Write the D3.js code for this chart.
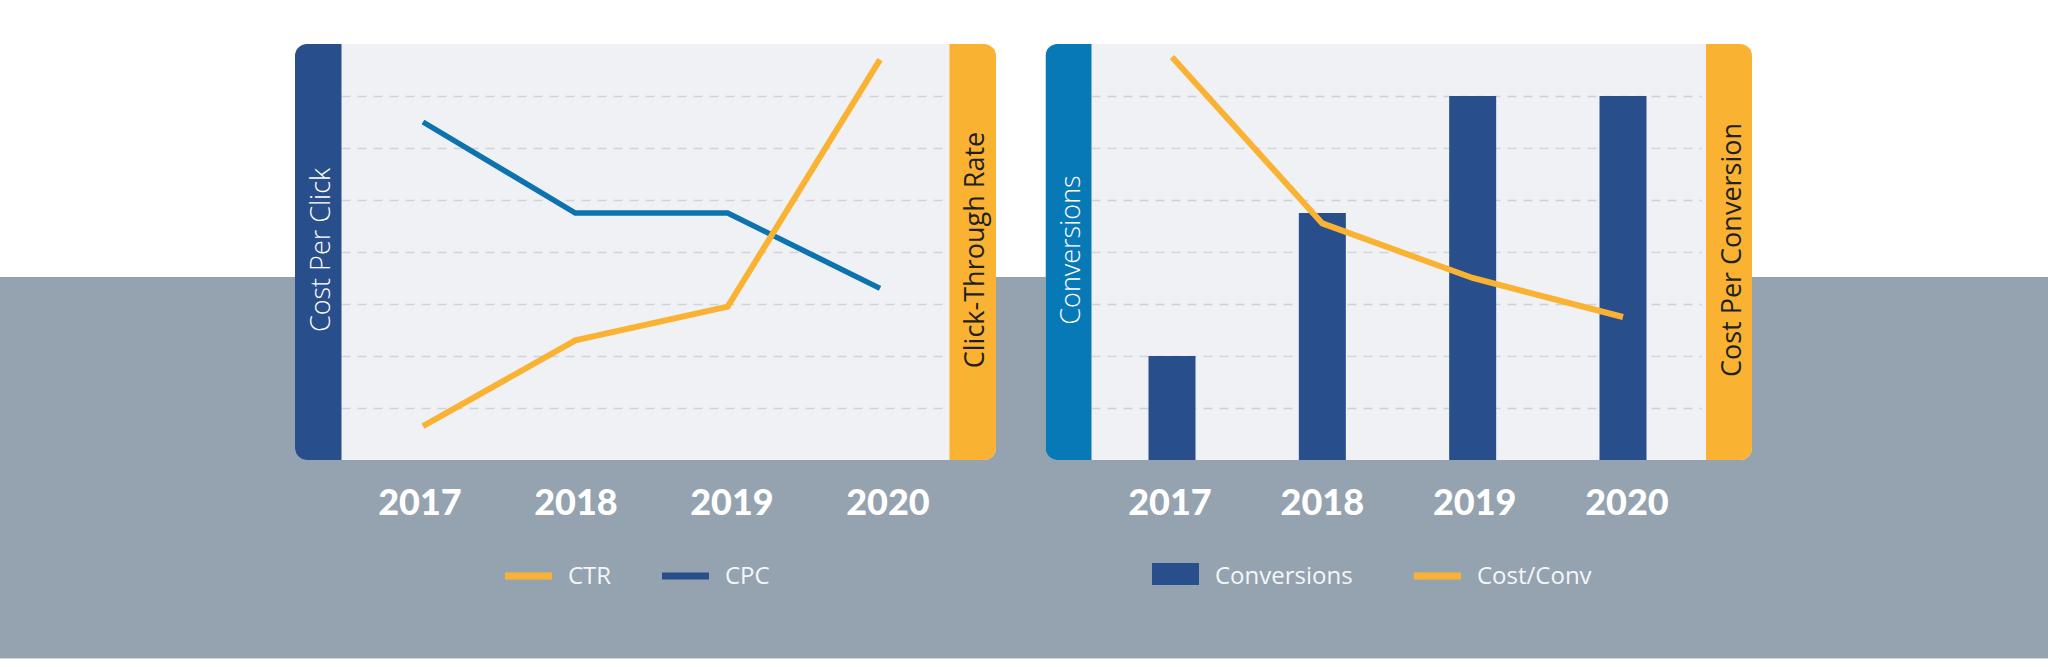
<!DOCTYPE html>
<html>
<head>
<meta charset="utf-8">
<script src="https://cdn.jsdelivr.net/npm/d3@7"></script>
<style>
  html, body { margin: 0; padding: 0; background: #ffffff; }
  svg { display: block; }
</style>
</head>
<body>
<svg id="chart" width="2048" height="667"></svg>
<script>
// ---------- DATA ----------
const years = ["2017", "2018", "2019", "2020"];
// left panel (grid units, no tick labels shown)
const cpc = [6.5, 4.75, 4.75, 3.3];
const ctr = [0.65, 2.3, 2.95, 7.7];
// right panel
const conversions = [2.0, 4.75, 7.0, 7.0];
const costPerConv = [7.75, 4.55, 3.5, 2.75];
const gridTicks = [1, 2, 3, 4, 5, 6, 7];

const leftLegend = ["CTR", "CPC"];
const rightLegend = ["Conversions", "Cost/Conv"];

// ---------- STYLE ----------
const C = {
  gray: "#95a3b0",
  panel: "#eff1f5",
  navy: "#284f8b",
  teal: "#0c73ae",
  convBlue: "#0879b7",
  orange: "#fab232",
  grid: "#cfd3da",
  dark: "#231f20"
};

const svg = d3.select("#chart");

// background bands
svg.append("rect").attr("x", 0).attr("y", 0).attr("width", 2048).attr("height", 667).attr("fill", "#ffffff");
svg.append("rect").attr("x", 0).attr("y", 277).attr("width", 2048).attr("height", 381).attr("fill", C.gray);
svg.append("rect").attr("x", 0).attr("y", 658).attr("width", 2048).attr("height", 1).attr("fill", "#c9d7e1");

const y = d3.scaleLinear().domain([0, 8]).range([460, 44]);

function panel(opts) {
  const g = svg.append("g");
  const id = "clip" + opts.id;
  svg.append("defs").append("clipPath").attr("id", id)
    .append("rect").attr("x", opts.x0).attr("y", 44)
    .attr("width", opts.x1 - opts.x0).attr("height", 416).attr("rx", 12);
  const inner = g.append("g").attr("clip-path", `url(#${id})`);
  inner.append("rect").attr("x", opts.x0).attr("y", 44)
    .attr("width", opts.x1 - opts.x0).attr("height", 416).attr("fill", C.panel);
  // grid
  inner.selectAll("line.grid").data(gridTicks).join("line")
    .attr("x1", opts.x0 + opts.sideW).attr("x2", opts.x1 - opts.sideW - 4)
    .attr("y1", d => Math.round(y(d)) + 0.5).attr("y2", d => Math.round(y(d)) + 0.5)
    .attr("stroke", C.grid).attr("stroke-width", 1.3).attr("stroke-dasharray", "9,7");
  // side bars
  inner.append("rect").attr("x", opts.x0).attr("y", 44).attr("width", opts.sideW).attr("height", 416).attr("fill", opts.leftColor);
  inner.append("rect").attr("x", opts.x1 - opts.sideW).attr("y", 44).attr("width", opts.sideW).attr("height", 416).attr("fill", C.orange);
  // side labels
  const lx = opts.x0 + opts.sideW / 2, rx = opts.x1 - opts.sideW / 2;
  g.append("text").attr("transform", `translate(${lx + 1},250) rotate(-90)`)
    .attr("text-anchor", "middle").attr("dominant-baseline", "central")
    .attr("font-family", "'Open Sans', sans-serif").attr("font-weight", 300)
    .attr("font-size", 27).attr("fill", "#ffffff").text(opts.leftLabel);
  g.append("text").attr("transform", `translate(${rx + 1},250) rotate(-90)`)
    .attr("text-anchor", "middle").attr("dominant-baseline", "central")
    .attr("font-family", "'Open Sans', sans-serif").attr("font-weight", 400)
    .attr("font-size", 27).attr("fill", C.dark).text(opts.rightLabel);
  return inner;
}

// ---------- LEFT PANEL ----------
const leftInner = panel({ id: "L", x0: 295, x1: 996, sideW: 46.5, leftColor: C.navy,
  leftLabel: "Cost Per Click", rightLabel: "Click-Through Rate" });
const xL = d3.scalePoint().domain(years).range([423, 880]);
const line = d3.line().x(d => d[0]).y(d => d[1]);
leftInner.append("path")
  .attr("d", line(years.map((yr, i) => [xL(yr), y(cpc[i])])))
  .attr("fill", "none").attr("stroke", C.teal).attr("stroke-width", 5.5);
leftInner.append("path")
  .attr("d", line(years.map((yr, i) => [xL(yr), y(ctr[i])])))
  .attr("fill", "none").attr("stroke", C.orange).attr("stroke-width", 6);

// ---------- RIGHT PANEL ----------
const rightInner = panel({ id: "R", x0: 1045.5, x1: 1752, sideW: 46, leftColor: C.convBlue,
  leftLabel: "Conversions", rightLabel: "Cost Per Conversion" });
const xR = d3.scalePoint().domain(years).range([1172, 1623]);
const barW = 47;
rightInner.selectAll("rect.bar").data(years).join("rect").attr("class", "bar")
  .attr("x", d => xR(d) - barW / 2).attr("width", barW)
  .attr("y", (d, i) => y(conversions[i])).attr("height", (d, i) => y(0) - y(conversions[i]))
  .attr("fill", C.navy);
rightInner.append("path")
  .attr("d", line(years.map((yr, i) => [xR(yr), y(costPerConv[i])])))
  .attr("fill", "none").attr("stroke", C.orange).attr("stroke-width", 6);

// ---------- YEAR LABELS ----------
const yearFont = { family: "Lato, sans-serif", size: 36, weight: 900 };
const xLabL = d3.scalePoint().domain(years).range([420, 888]);
const xLabR = d3.scalePoint().domain(years).range([1170, 1627]);
[xLabL, xLabR].forEach(sc => {
  svg.append("g").selectAll("text").data(years).join("text")
    .attr("x", d => sc(d)).attr("y", 515)
    .attr("text-anchor", "middle")
    .attr("font-family", yearFont.family).attr("font-weight", yearFont.weight)
    .attr("font-size", yearFont.size).attr("fill", "#ffffff").text(d => d);
});

// ---------- LEGENDS ----------
const legFont = "'Open Sans', sans-serif";
function legendItem(x, label, kind, color) {
  const g = svg.append("g");
  if (kind === "line") {
    g.append("line").attr("x1", x).attr("x2", x + 47).attr("y1", 576).attr("y2", 576)
      .attr("stroke", color).attr("stroke-width", 7);
  } else {
    g.append("rect").attr("x", x).attr("y", 563).attr("width", 47).attr("height", 22).attr("fill", color);
  }
  g.append("text").attr("x", x + 63).attr("y", 583.5)
    .attr("font-family", legFont).attr("font-size", 24).attr("font-weight", 400)
    .attr("fill", "#f4f6f9").text(label);
}
legendItem(505, leftLegend[0], "line", C.orange);
legendItem(662, leftLegend[1], "line", C.navy);
legendItem(1152, rightLegend[0], "rect", C.navy);
legendItem(1414, rightLegend[1], "line", C.orange);
</script>
</body>
</html>
